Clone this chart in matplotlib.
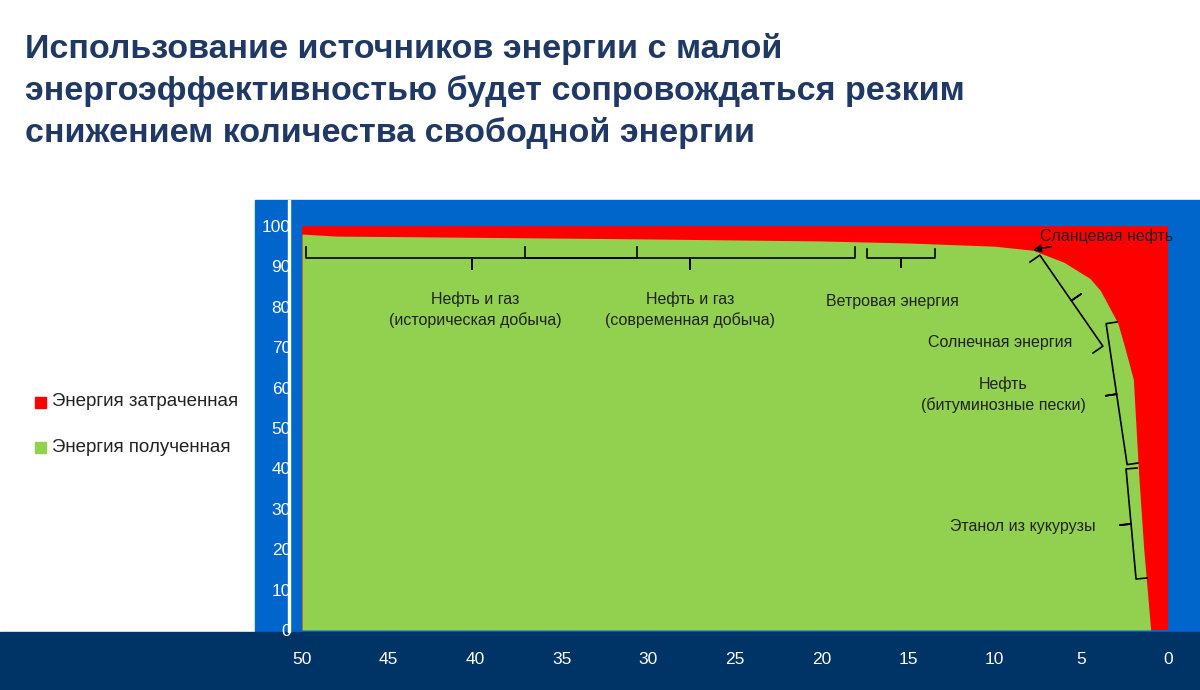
import matplotlib.pyplot as plt
import numpy as np
from matplotlib.patches import Rectangle
from matplotlib.transforms import IdentityTransform

plt.rcParams['font.family'] = ['Liberation Sans', 'DejaVu Sans']

# EROI (x) and share of net energy obtained, % (y)
eroi = [50, 48, 40, 30, 20, 15, 10, 7.8, 6, 4.5, 3.9, 2.9, 2.5, 2.0, 1.7, 1.4, 1.0, 0.0]
gained = [98, 97.5, 97.2, 96.8, 96.3, 95.8, 95.0, 94, 91, 87, 84, 76, 70, 62, 39, 20, 0, 0]
x_ticks = [50, 45, 40, 35, 30, 25, 20, 15, 10, 5, 0]
y_ticks = [0, 10, 20, 30, 40, 50, 60, 70, 80, 90, 100]

W, H = 1200, 690
fig = plt.figure(figsize=(12, 6.9), dpi=100)

def px(x0, y0, w, h):
    # pixel box (top-left origin) -> figure fraction
    return [x0 / W, 1 - (y0 + h) / H, w / W, h / H]

fig.patches.append(Rectangle((255 / W, 1 - 632 / H), 945 / W, 432 / H, transform=fig.transFigure, color='#0066CC', zorder=0))
fig.patches.append(Rectangle((0, 0), 1, 58 / H, transform=fig.transFigure, color='#003366', zorder=0))
fig.patches.append(Rectangle((288 / W, 1 - 632 / H), 2 / W, 432 / H, transform=fig.transFigure, color='white', zorder=0))

ax = fig.add_axes(px(302, 226, 866, 404))
ax.set_zorder(2)
ax.set_xlim(50, 0)
ax.set_ylim(0, 100)
ax.patch.set_alpha(0)
for s in ax.spines.values():
    s.set_visible(False)
ax.fill_between([50, 0], 0, 100, color='#FF0000', lw=0)
ax.fill_between(eroi, 0, gained, color='#92D050', lw=0)
ax.set_xticks(x_ticks)
ax.set_yticks(y_ticks)
ax.tick_params(length=0, colors='white', labelsize=12.5)
ax.tick_params(axis='x', pad=16)
ax.tick_params(axis='y', pad=8)

fig.text(25 / W, 1 - 33 / H, 'Использование источников энергии с малой\nэнергоэффективностью будет сопровождаться резким\nснижением количества свободной энергии',
         fontsize=24.5, fontweight='bold', color='#1F3864', va='top', linespacing=1.4)

# legend
fig.patches.append(Rectangle((35 / W, 1 - 408 / H), 11 / W, 11 / H, transform=fig.transFigure, color='#FF0000'))
fig.patches.append(Rectangle((35 / W, 1 - 453 / H), 11 / W, 11 / H, transform=fig.transFigure, color='#92D050'))
fig.text(52 / W, 1 - 402 / H, 'Энергия затраченная', fontsize=13.5, va='center', color='#222222')
fig.text(52 / W, 1 - 447 / H, 'Энергия полученная', fontsize=13.5, va='center', color='#222222')

def brace(p1, p2, d=10, tip=None):
    # curly-bracket-like path in pixel coordinates, tip on the given side
    p1, p2 = np.array(p1, float), np.array(p2, float)
    v = p2 - p1
    n = np.array([-v[1], v[0]]) / np.hypot(*v)
    if tip is not None and np.dot(n, np.array(tip) - (p1 + p2) / 2) < 0:
        n = -n
    m = (p1 + p2) / 2
    pts = np.array([p1, p1 + n * d, m + n * d, m + n * 2 * d, m + n * d, p2 + n * d, p2])
    pts[:, 1] = H - pts[:, 1]
    line = plt.Line2D(pts[:, 0], pts[:, 1], color='black', lw=1.2, transform=IdentityTransform())
    line.set_zorder(10)
    fig.add_artist(line)

brace((306, 247), (637, 247), 11, tip=(470, 300))
brace((525, 247), (855, 247), 11, tip=(687, 300))
brace((867, 249), (935, 249), 9, tip=(900, 300))
brace((1030, 262), (1093, 353), 12, tip=(1120, 300))
brace((1117, 322), (1138, 463), 11, tip=(1050, 393))
brace((1137, 468), (1147, 578), 11, tip=(1050, 523))

ann = dict(fontsize=11.5, color='#222222', ha='center', va='center', linespacing=1.4, zorder=10)
fig.text(475 / W, 1 - 310 / H, 'Нефть и газ\n(историческая добыча)', **ann)
fig.text(690 / W, 1 - 310 / H, 'Нефть и газ\n(современная добыча)', **ann)
fig.text(892 / W, 1 - 301 / H, 'Ветровая энергия', **ann)
fig.text(1000 / W, 1 - 343 / H, 'Солнечная энергия', **ann)
fig.text(1003 / W, 1 - 395 / H, 'Нефть\n(битуминозные пески)', **ann)
fig.text(1023 / W, 1 - 526 / H, 'Этанол из кукурузы', **ann)
ax.annotate('Сланцевая нефть', xy=(1033 / W, 1 - 250 / H), xycoords='figure fraction',
            xytext=(1040 / W, 1 - 236 / H), textcoords='figure fraction',
            fontsize=11.5, color='#222222', va='center',
            arrowprops=dict(arrowstyle='-|>', color='black', lw=1.2, shrinkA=0, shrinkB=0))

fig.savefig('out.png', dpi=100)
